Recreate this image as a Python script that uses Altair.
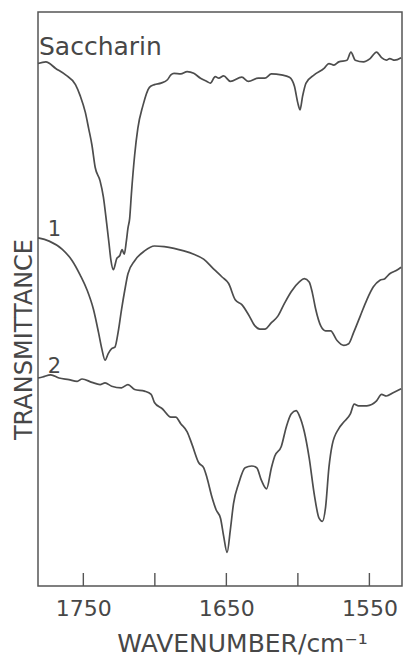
import altair as alt
import pandas as pd

# ---- data (wavenumber in cm-1, transmittance in arbitrary offset units) ----
sac_wn = [1781.7, 1776.2, 1769.3, 1762.4, 1755.5, 1752.1, 1748.6, 1746.3, 1744.0, 1741.7,
          1738.3, 1736.0, 1733.7, 1732.1, 1730.7, 1729.0, 1726.6, 1724.5, 1722.9, 1721.4,
          1719.9, 1718.8, 1717.6, 1716.4, 1714.1, 1711.9, 1708.4, 1703.8, 1700.3, 1695.7,
          1691.2, 1688.8, 1686.6, 1681.9, 1677.4, 1672.8, 1668.1, 1663.6, 1661.2, 1657.8,
          1655.3, 1651.9, 1647.2, 1639.2, 1634.6, 1627.7, 1623.1, 1618.5, 1611.6, 1605.9,
          1602.4, 1600.1, 1598.5, 1596.7, 1594.3, 1588.6, 1581.7, 1578.3, 1574.8, 1571.4,
          1565.7, 1562.9, 1559.9, 1554.1, 1549.5, 1545.0, 1541.5, 1538.1, 1535.8, 1532.3,
          1527.8]
sac_t = [534.3, 536.0, 529.3, 522.7, 512.7, 501.0, 484.3, 468.0, 451.0, 428.0,
         414.3, 398.0, 371.0, 351.0, 333.0, 323.5, 335.0, 338.0, 344.0, 339.3,
         353.0, 366.0, 376.0, 401.0, 441.0, 468.0, 491.0, 510.0, 512.7, 514.3,
         517.7, 522.7, 524.3, 523.7, 526.0, 524.3, 519.3, 516.0, 514.3, 521.0,
         519.3, 521.7, 516.0, 520.3, 516.0, 519.3, 519.3, 523.7, 522.7, 520.3,
         511.0, 494.3, 487.0, 501.0, 514.3, 522.7, 529.3, 534.3, 532.7, 536.0,
         537.7, 546.0, 537.7, 536.0, 539.3, 546.0, 540.3, 537.7, 539.3, 537.7,
         540.3]

c1_wn = [1781.7, 1773.9, 1764.7, 1757.8, 1752.1, 1747.4, 1742.9, 1739.4, 1737.1, 1734.8,
         1732.6, 1730.2, 1727.9, 1725.7, 1723.3, 1721.0, 1718.8, 1714.1, 1707.2, 1700.3,
         1693.4, 1686.6, 1679.7, 1672.8, 1665.9, 1659.0, 1653.0, 1648.4, 1643.8, 1639.2,
         1634.6, 1630.0, 1626.6, 1623.1, 1618.5, 1614.0, 1609.3, 1604.7, 1599.0, 1595.5,
         1592.1, 1589.8, 1587.5, 1584.0, 1580.6, 1577.1, 1572.6, 1567.9, 1564.5, 1561.0,
         1556.4, 1551.8, 1547.2, 1542.6, 1539.2, 1535.8, 1531.2, 1527.8]
c1_t = [356.0, 352.7, 344.3, 332.7, 317.7, 302.7, 282.7, 259.3, 242.7, 231.0,
        237.7, 242.7, 244.3, 259.3, 282.7, 302.7, 319.3, 332.7, 342.7, 347.7,
        347.0, 345.3, 342.7, 339.3, 334.3, 324.3, 316.0, 309.3, 292.7, 287.7,
        277.7, 266.0, 262.7, 262.7, 269.3, 276.0, 289.3, 301.0, 311.0, 314.3,
        311.0, 299.3, 282.7, 266.0, 261.0, 261.0, 251.0, 246.0, 247.7, 259.3,
        276.0, 292.7, 306.0, 312.7, 314.3, 319.3, 322.7, 326.0]

c2_wn = [1781.7, 1778.5, 1772.8, 1767.0, 1760.1, 1754.3, 1750.9, 1744.0, 1738.3, 1734.8,
         1730.2, 1723.3, 1718.8, 1714.1, 1707.2, 1702.6, 1700.3, 1694.6, 1688.8, 1685.4,
         1681.9, 1677.4, 1673.9, 1669.3, 1665.9, 1663.6, 1660.1, 1657.1, 1654.1, 1651.9,
         1649.5, 1647.2, 1645.0, 1641.5, 1636.9, 1632.3, 1628.8, 1625.4, 1621.9, 1618.5,
         1616.2, 1611.6, 1608.1, 1604.7, 1601.2, 1599.0, 1595.5, 1592.1, 1588.6, 1585.2,
         1582.9, 1580.6, 1578.3, 1576.0, 1571.4, 1567.9, 1563.3, 1560.6, 1557.6, 1551.8,
         1545.0, 1541.5, 1538.1, 1533.4, 1527.8]
c2_t = [212.7, 213.7, 216.0, 212.7, 211.0, 209.3, 211.7, 208.3, 206.0, 207.7,
        204.3, 202.7, 206.0, 201.0, 199.3, 196.0, 187.7, 181.0, 172.7, 172.7,
        166.0, 157.7, 144.3, 126.0, 121.0, 111.0, 91.0, 77.7, 69.3, 51.0,
        34.3, 57.7, 84.3, 104.3, 121.0, 122.7, 121.0, 107.7, 99.3, 121.0,
        132.7, 142.7, 162.7, 176.0, 179.3, 174.3, 157.7, 131.0, 94.3, 69.3,
        66.0, 81.0, 121.0, 144.3, 161.0, 167.7, 176.0, 186.0, 184.3, 184.3,
        189.3, 196.0, 194.3, 197.7, 201.7]

series_names = ["Saccharin", "1", "2"]
tick_values = [1750, 1700, 1650, 1600, 1550]
label_values = [1750, 1650, 1550]

big_label = ["Saccharin"]
big_label_wn = [1781.0]
big_label_t = [543.0]
small_labels = ["1", "2"]
small_labels_wn = [1774.8, 1774.8]
small_labels_t = [358.0, 218.0]

# ---- build tables ----
rows = []
for name, wns, ts in zip(series_names, [sac_wn, c1_wn, c2_wn], [sac_t, c1_t, c2_t]):
    for w, t in zip(wns, ts):
        rows.append({"series": name, "wn": w, "t": t})
df = pd.DataFrame(rows)
tick_df = pd.DataFrame({"wn": tick_values})
big_df = pd.DataFrame({"label": big_label, "wn": big_label_wn, "t": big_label_t})
small_df = pd.DataFrame({"label": small_labels, "wn": small_labels_wn, "t": small_labels_t})

FONT = "DejaVu Sans"
INK = "#474747"
W, H = 364, 574

x_scale = alt.Scale(domain=[1781.7, 1527.2], nice=False, zero=False)
y_scale = alt.Scale(domain=[0, 587], nice=False, zero=False)

x_axis = alt.Axis(values=label_values, format="d", ticks=False, tickSize=0, domain=False, grid=False,
                  labelFont=FONT, labelFontSize=22, labelColor=INK, labelPadding=12,
                  labelFlush=False, labelOverlap=False,
                  title="WAVENUMBER/cm⁻¹", titleFont=FONT, titleFontSize=25,
                  titleFontWeight="normal", titleColor=INK, titleX=204, titleY=65,
                  titleAlign="center", titleBaseline="alphabetic")
y_axis = alt.Axis(labels=False, ticks=False, domain=False, grid=False,
                  title="TRANSMITTANCE", titleFont=FONT, titleFontSize=24,
                  titleFontWeight="normal", titleColor=INK, titleAngle=270,
                  titleX=-14, titleY=327, titleAlign="center", titleBaseline="middle")

x_enc = alt.X("wn:Q", scale=x_scale, axis=x_axis)
y_enc = alt.Y("t:Q", scale=y_scale, axis=y_axis)

lines = alt.Chart(df).mark_line(color="#4d4d4d", strokeWidth=1.7, interpolate="monotone").encode(
    x=x_enc, y=y_enc, detail="series:N", order=alt.Order("wn:Q", sort="descending")
)

ticks = alt.Chart(tick_df).mark_rule(color="#555555", strokeWidth=1.4).encode(
    x=x_enc, y=alt.value(H), y2=alt.value(H - 13)
)

big_text = alt.Chart(big_df).mark_text(
    align="left", baseline="alphabetic", font=FONT, fontSize=25, color=INK
).encode(x=x_enc, y=y_enc, text="label:N")

small_text = alt.Chart(small_df).mark_text(
    align="left", baseline="alphabetic", font=FONT, fontSize=21, color=INK
).encode(x=x_enc, y=y_enc, text="label:N")

chart = alt.layer(lines, ticks, big_text, small_text).properties(
    width=W, height=H,
    autosize=alt.AutoSizeParams(type="none"),
    padding={"left": 30, "top": 4, "right": 1, "bottom": 72},
).configure_view(stroke="#555555", strokeWidth=1.5)

chart.save("out.html", embed_options={"renderer": "svg", "actions": False})
